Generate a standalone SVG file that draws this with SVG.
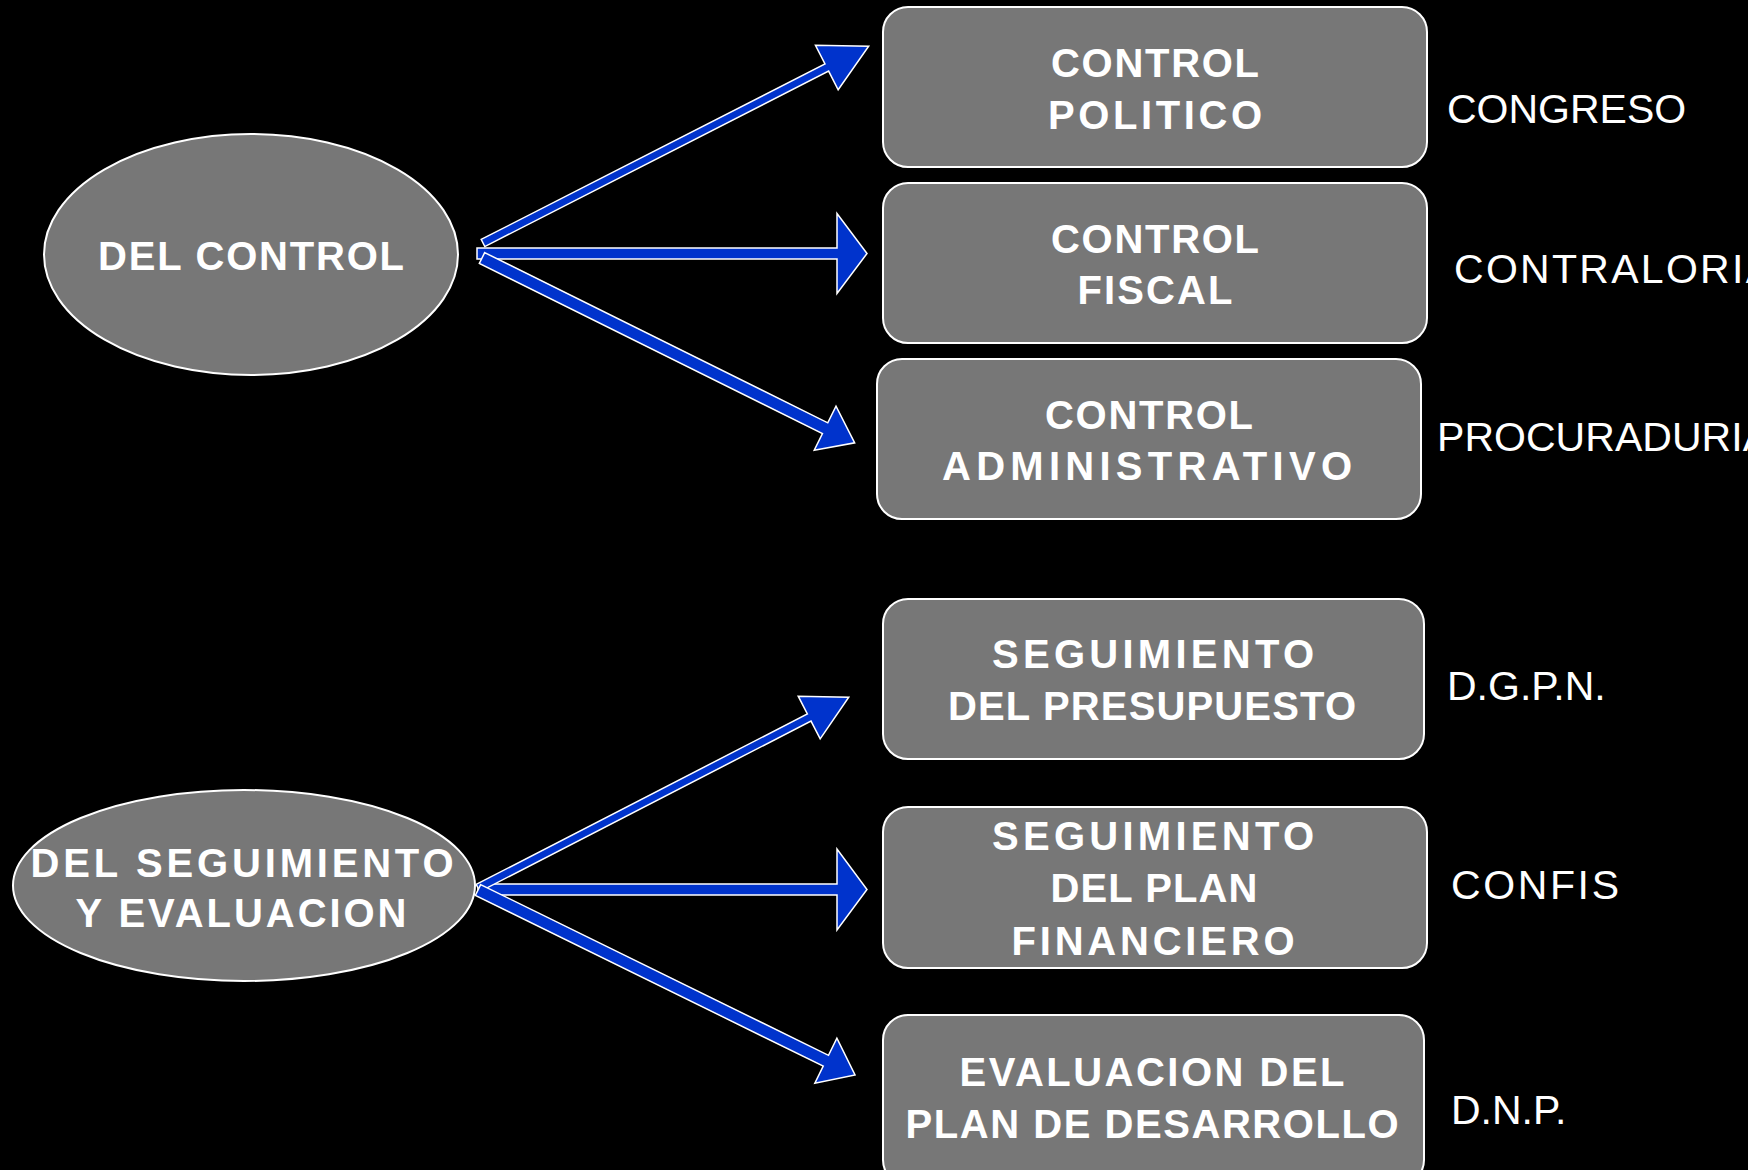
<svg xmlns="http://www.w3.org/2000/svg" width="1748" height="1170" viewBox="0 0 1748 1170">
<style>
.bg{fill:#000}
.node{fill:#777777;stroke:#ffffff;stroke-width:2}
.t{font-family:"Liberation Sans",Arial,sans-serif;font-weight:bold;font-size:40px;fill:#ffffff;text-anchor:middle}
.lbl{font-family:"Liberation Sans",Arial,sans-serif;font-size:41px;fill:#ffffff}
.arrow{fill:#0033cc;stroke:#ffffff;stroke-width:1.5;stroke-linejoin:miter}
</style>
<rect class="bg" x="0" y="0" width="1748" height="1170"/>

<g id="connectors">
  <!-- top group -->
  <polygon class="arrow" transform="translate(477,253.5)" points="0,-5.5 360,-5.5 360,-40 390,0 360,40 360,5.5 0,5.5"/>
  <polygon class="arrow" transform="translate(483,243) rotate(-27.04)" points="0,-4 386,-4 386,-25 433,0 386,25 386,4 0,4"/>
  <polygon class="arrow" transform="translate(482,258) rotate(26.38)" points="0,-6 383,-6 383,-24.5 416,0 383,24.5 383,6 0,6"/>
  <!-- bottom group -->
  <polygon class="arrow" transform="translate(478,889.5)" points="0,-5.5 359,-5.5 359,-40.5 389,0 359,40.5 359,5.5 0,5.5"/>
  <polygon class="arrow" transform="translate(478,888) rotate(-27.24)" points="0,-4 372.5,-4 372.5,-24 417,0 372.5,24 372.5,4 0,4"/>
  <polygon class="arrow" transform="translate(478,890) rotate(26.14)" points="0,-6 387.5,-6 387.5,-25 420,0 387.5,25 387.5,6 0,6"/>
</g>

<g id="del-control">
  <ellipse class="node" cx="251" cy="254.5" rx="207" ry="120.5"/>
  <text class="t" x="251" y="270" textLength="306" lengthAdjust="spacing">DEL CONTROL</text>
</g>

<g id="del-seguimiento">
  <ellipse class="node" cx="244" cy="885.5" rx="231" ry="95.5"/>
  <text class="t" x="242" y="877" textLength="423" lengthAdjust="spacing">DEL SEGUIMIENTO</text>
  <text class="t" x="241" y="927" textLength="331" lengthAdjust="spacing">Y EVALUACION</text>
</g>

<g id="control-politico">
  <rect class="node" x="883" y="7" width="544" height="160" rx="25"/>
  <text class="t" x="1155" y="77" textLength="208" lengthAdjust="spacing">CONTROL</text>
  <text class="t" x="1155" y="129" textLength="214" lengthAdjust="spacing">POLITICO</text>
</g>

<g id="control-fiscal">
  <rect class="node" x="883" y="183" width="544" height="160" rx="25"/>
  <text class="t" x="1155" y="253" textLength="208" lengthAdjust="spacing">CONTROL</text>
  <text class="t" x="1155" y="304" textLength="155" lengthAdjust="spacing">FISCAL</text>
</g>

<g id="control-administrativo">
  <rect class="node" x="877" y="359" width="544" height="160" rx="25"/>
  <text class="t" x="1149" y="429" textLength="208" lengthAdjust="spacing">CONTROL</text>
  <text class="t" x="1147" y="480" textLength="410" lengthAdjust="spacing">ADMINISTRATIVO</text>
</g>

<g id="seguimiento-presupuesto">
  <rect class="node" x="883" y="599" width="541" height="160" rx="25"/>
  <text class="t" x="1153" y="668" textLength="322" lengthAdjust="spacing">SEGUIMIENTO</text>
  <text class="t" x="1152" y="720" textLength="408" lengthAdjust="spacing">DEL PRESUPUESTO</text>
</g>

<g id="seguimiento-plan-financiero">
  <rect class="node" x="883" y="807" width="544" height="161" rx="25"/>
  <text class="t" x="1153" y="850" textLength="322" lengthAdjust="spacing">SEGUIMIENTO</text>
  <text class="t" x="1154" y="902" textLength="207" lengthAdjust="spacing">DEL PLAN</text>
  <text class="t" x="1153" y="955" textLength="283" lengthAdjust="spacing">FINANCIERO</text>
</g>

<g id="evaluacion-plan-desarrollo">
  <rect class="node" x="883" y="1015" width="541" height="170" rx="25"/>
  <text class="t" x="1152" y="1086" textLength="385" lengthAdjust="spacing">EVALUACION DEL</text>
  <text class="t" x="1152" y="1138" textLength="493" lengthAdjust="spacing">PLAN DE DESARROLLO</text>
</g>

<g id="labels">
  <text class="lbl" x="1447" y="123">CONGRESO</text>
  <text class="lbl" x="1454" y="283" textLength="319" lengthAdjust="spacing">CONTRALORIA</text>
  <text class="lbl" x="1437" y="451" textLength="333" lengthAdjust="spacing">PROCURADURIA</text>
  <text class="lbl" x="1447" y="700">D.G.P.N.</text>
  <text class="lbl" x="1451" y="899" textLength="168" lengthAdjust="spacing">CONFIS</text>
  <text class="lbl" x="1451" y="1124">D.N.P.</text>
</g>
</svg>
